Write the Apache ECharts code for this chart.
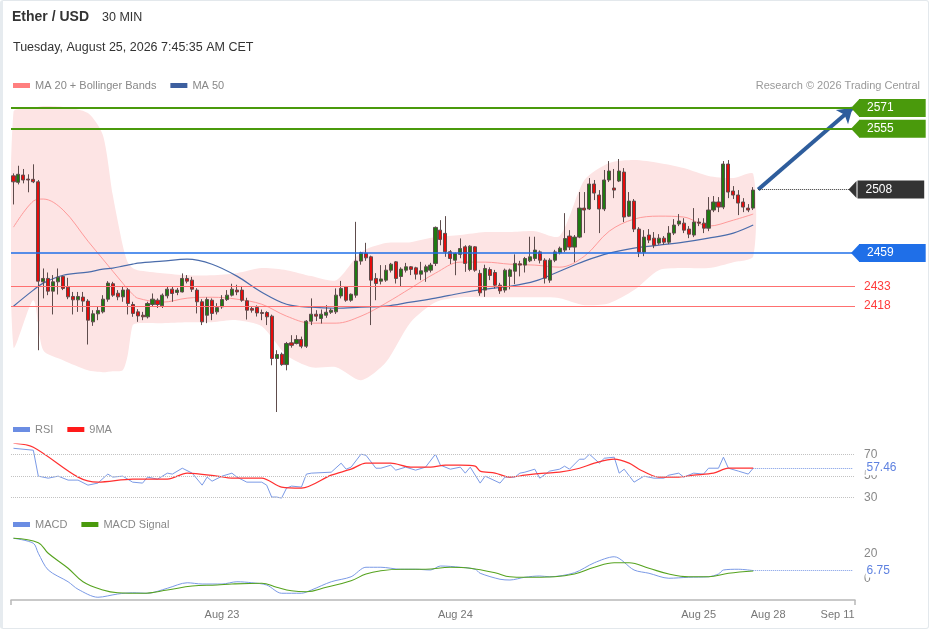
<!DOCTYPE html>
<html><head><meta charset="utf-8">
<script src="https://cdn.jsdelivr.net/npm/echarts@6/dist/echarts.min.js"></script>
<style>
html,body{margin:0;padding:0;background:#fff}
#c{position:absolute;left:0;top:0;width:929px;height:629px}
#frame{position:absolute;left:0;top:0;width:929px;height:629px;box-sizing:border-box;border:1px solid #e3e8ec;border-left:3px solid #e6ebef;border-radius:3px;pointer-events:none}
</style>
</head><body><div id="c"></div><div id="frame"></div>
<script>
const FONT = '"Liberation Sans", Arial, Helvetica, sans-serif';

// ---- x axis slots & tick labels ----
const slotCount = 170;
const tickIndex = [42, 89, 138, 152, 166];
const tickLabels = ['Aug 23', 'Aug 24', 'Aug 25', 'Aug 28', 'Sep 11'];

// ---- 30-min candles (Ether / USD) ----
const open = [2518.6,2513.6,2519.2,2516.1,2515.9,2514.0,2436.8,2439.4,2429.6,2436.8,
2441.0,2432.7,2425.5,2422.9,2425.0,2421.9,2405.9,2412.1,2413.6,2423.4,
2435.3,2428.0,2425.2,2430.6,2419.3,2413.6,2411.0,2409.8,2419.3,2422.6,
2418.3,2426.0,2431.1,2428.6,2429.0,2439.4,2438.1,2430.4,2421.4,2411.0,
2422.6,2413.6,2417.5,2423.1,2426.5,2430.4,2430.4,2422.1,2416.2,2417.0,
2413.1,2413.1,2410.3,2377.6,2380.9,2372.9,2389.7,2389.2,2392.3,2387.1,
2406.4,2411.8,2408.5,2411.0,2413.3,2413.6,2425.9,2432.9,2422.6,2426.5,
2452.8,2458.7,2456.1,2439.4,2437.3,2438.1,2445.8,2452.2,2440.9,2445.8,
2448.4,2447.6,2442.7,2444.5,2445.8,2451.0,2476.7,2474.2,2460.0,2453.5,
2458.0,2463.8,2446.3,2463.8,2443.3,2430.4,2446.3,2444.0,2434.2,2430.4,
2441.0,2445.0,2450.7,2449.7,2453.0,2454.8,2459.9,2453.5,2438.1,2453.5,
2459.2,2461.3,2472.1,2463.6,2471.3,2493.7,2493.0,2512.3,2503.8,2493.0,
2515.4,2509.2,2514.6,2521.5,2487.5,2499.1,2477.5,2459.7,2472.9,2470.5,
2466.7,2470.5,2467.4,2474.4,2481.4,2482.1,2477.5,2472.9,2482.9,2482.1,
2478.2,2492.2,2498.4,2494.5,2527.7,2506.9,2503.8,2498.4,2493.7,2493.7];
const close = [2514.0,2519.8,2515.4,2515.4,2514.0,2437.3,2439.4,2429.6,2436.8,2440.4,
2431.7,2425.2,2422.9,2425.5,2421.9,2407.2,2412.1,2414.7,2423.4,2435.8,
2426.5,2425.2,2430.4,2420.1,2412.4,2410.5,2409.8,2420.1,2423.4,2419.3,
2426.5,2431.1,2427.8,2430.4,2439.4,2437.3,2431.1,2421.4,2405.9,2423.1,
2412.4,2416.9,2423.1,2426.5,2431.1,2429.0,2422.6,2414.9,2414.9,2412.8,
2412.4,2409.8,2377.6,2380.7,2372.9,2389.2,2387.8,2392.3,2387.1,2406.4,
2411.8,2410.3,2411.8,2413.3,2414.9,2426.5,2431.7,2422.6,2427.2,2452.8,
2459.2,2455.3,2438.1,2435.5,2439.0,2445.8,2450.4,2439.4,2446.6,2448.4,
2446.4,2442.7,2445.3,2448.4,2449.7,2478.8,2469.5,2460.0,2454.8,2458.7,
2462.5,2451.0,2464.3,2445.8,2428.3,2447.1,2441.7,2434.2,2429.8,2445.8,
2446.0,2451.0,2449.7,2454.8,2456.1,2461.3,2453.5,2439.6,2453.5,2459.9,
2462.7,2470.2,2463.6,2471.3,2493.7,2492.2,2512.3,2505.3,2493.0,2515.4,
2522.3,2507.6,2522.3,2486.8,2499.1,2477.5,2459.7,2471.3,2469.0,2465.1,
2470.5,2467.4,2474.4,2480.6,2483.7,2476.7,2473.6,2482.9,2482.1,2478.2,
2492.2,2498.4,2494.5,2527.7,2506.1,2503.8,2497.6,2494.5,2492.2,2507.6];
const low = [2496.5,2512.0,2512.8,2505.9,2513.0,2384.0,2424.0,2426.5,2411.6,2427.0,
2430.4,2423.4,2411.6,2413.6,2413.6,2388.4,2402.8,2407.2,2412.4,2421.4,
2425.2,2422.6,2421.4,2411.6,2409.8,2405.9,2407.2,2408.5,2417.5,2416.6,
2416.6,2424.0,2421.4,2426.5,2428.6,2435.6,2429.0,2412.4,2403.4,2404.9,
2407.2,2411.6,2416.0,2422.0,2425.5,2426.5,2421.4,2407.7,2413.0,2410.0,
2407.2,2403.4,2372.4,2336.3,2372.0,2368.5,2386.0,2388.5,2385.5,2385.8,
2403.4,2406.5,2404.6,2409.0,2412.0,2412.0,2424.0,2421.4,2421.4,2424.5,
2450.0,2453.0,2403.4,2422.6,2434.8,2436.8,2444.0,2435.5,2433.0,2444.0,
2442.0,2438.6,2438.1,2436.8,2444.0,2449.0,2465.0,2456.1,2450.5,2441.9,
2455.0,2444.5,2445.0,2444.5,2426.0,2425.2,2438.1,2431.7,2427.5,2428.5,
2431.0,2435.0,2441.0,2444.0,2452.0,2453.0,2451.0,2435.5,2436.0,2452.0,
2458.0,2459.7,2461.3,2452.0,2470.5,2474.4,2492.2,2499.9,2474.4,2491.4,
2513.8,2501.4,2513.8,2482.9,2486.8,2475.2,2455.9,2456.6,2466.7,2462.8,
2465.4,2465.4,2465.9,2472.9,2479.8,2474.4,2470.5,2471.3,2479.8,2474.4,
2475.9,2490.6,2490.6,2492.9,2501.4,2500.7,2488.3,2490.6,2490.6,2492.2];
const high = [2520.5,2526.4,2523.9,2519.8,2527.5,2515.4,2447.1,2444.0,2442.0,2447.1,
2441.5,2439.9,2429.0,2429.0,2429.0,2423.4,2414.9,2417.5,2426.5,2437.3,
2436.8,2430.4,2432.9,2432.1,2421.4,2415.7,2413.6,2421.4,2427.8,2424.0,
2427.8,2432.9,2432.9,2432.1,2443.3,2442.0,2440.6,2431.9,2423.4,2424.8,
2424.0,2420.3,2426.5,2430.4,2435.3,2434.5,2433.6,2424.5,2417.8,2418.6,
2415.4,2414.1,2411.5,2384.0,2382.2,2390.4,2395.6,2395.6,2394.5,2407.2,
2424.0,2414.9,2415.4,2418.8,2416.2,2431.7,2437.5,2433.6,2427.8,2483.1,
2460.0,2466.9,2457.0,2443.5,2449.7,2449.7,2451.4,2452.8,2448.0,2451.4,
2449.0,2448.4,2452.2,2450.0,2451.4,2479.5,2484.4,2487.5,2461.3,2459.5,
2470.3,2465.0,2465.0,2464.3,2446.0,2450.0,2448.0,2446.0,2436.0,2447.0,
2447.0,2458.0,2453.0,2456.0,2471.6,2471.6,2461.0,2455.0,2455.0,2461.5,
2464.0,2489.8,2476.7,2472.9,2506.1,2506.1,2516.9,2515.4,2507.6,2523.1,
2530.0,2523.9,2531.6,2524.6,2506.1,2500.7,2479.0,2476.7,2477.5,2475.2,
2473.6,2472.1,2479.8,2485.2,2489.1,2485.9,2479.8,2493.7,2485.9,2485.9,
2502.2,2503.0,2502.2,2530.0,2530.8,2510.7,2507.6,2501.4,2496.8,2509.9];

// ---- moving averages / Bollinger bands read at these candle indices ----
const bandIdx = [0,4,6,10,15,18,20,22,23,24,25,30,35,40,45,50,55,60,65,70,75,80,85,90,95,100,105,110,115,120,125,130,135,140,145,149];
const ma20 = [2479.0,2499.1,2500.7,2492.2,2468.2,2454.3,2445.0,2435.8,2431.1,2427.3,2424.2,2421.1,2424.2,2424.9,2423.4,2419.5,2410.3,2404.9,2404.9,2410.3,2420.3,2431.9,2443.5,2452.0,2452.0,2450.4,2449.7,2448.1,2456.6,2475.9,2485.2,2487.5,2486.8,2479.8,2484.4,2489.1];
const bbUpper = [2567.9,2571.0,2572.5,2571.8,2567.1,2550.1,2503.8,2465.1,2452.0,2447.4,2445.8,2443.5,2441.9,2441.9,2443.5,2447.4,2445.8,2441.2,2438.1,2459.7,2466.7,2467.4,2471.3,2472.9,2475.2,2475.2,2475.9,2472.1,2515.4,2528.5,2530.8,2528.5,2524.6,2518.5,2516.9,2520.0];
const bbLower = [2386.3,2422.6,2384.0,2376.3,2368.5,2367.0,2367.8,2368.5,2380.1,2403.3,2404.9,2404.9,2405.6,2405.6,2407.2,2402.5,2380.1,2370.8,2370.8,2360.8,2374.7,2405.6,2421.1,2424.9,2424.9,2424.9,2424.9,2424.2,2418.8,2420.3,2430.4,2445.8,2447.4,2447.4,2452.0,2456.6];
const ma50 = [2418.0,2430.4,2435.8,2441.9,2444.3,2446.6,2447.4,2448.9,2449.7,2450.4,2451.2,2452.8,2454.3,2450.4,2441.2,2428.8,2419.5,2417.2,2416.4,2417.2,2418.0,2421.1,2424.2,2428.0,2431.1,2433.4,2437.3,2445.0,2452.8,2458.9,2462.8,2465.1,2467.4,2470.5,2474.4,2480.6];

// ---- RSI panel: [candle index, value] ----
const rsi = [[0,76.0],[4,74.2],[5,50.0],[7,48.1],[9,50.0],[11,46.3],[13,46.3],[15,41.6],[17,43.5],[19,51.9],
[20,49.1],[22,50.0],[24,44.4],[26,43.5],[27,49.1],[29,47.2],[31,52.8],[32,51.9],[34,57.4],[36,52.8],
[38,41.6],[39,49.1],[40,45.3],[42,50.0],[44,52.8],[45,49.1],[47,44.4],[50,44.4],[51,41.6],[52,30.5],
[53,30.5],[54,29.5],[55,38.8],[56,40.7],[58,39.8],[59,51.9],[60,52.8],[64,53.7],[66,62.1],[67,56.5],
[68,58.4],[70,70.5],[71,69.5],[73,57.4],[74,57.4],[76,60.2],[77,55.6],[79,58.4],[81,55.6],[83,58.4],
[85,70.5],[86,60.2],[88,56.5],[90,58.4],[91,52.8],[92,58.4],[94,43.5],[95,50.0],[98,43.5],[99,49.1],
[101,49.1],[102,52.8],[103,53.7],[105,56.5],[106,48.1],[108,54.7],[110,56.5],[111,59.3],[112,56.5],[114,65.8],
[115,65.8],[116,70.5],[118,62.1],[119,66.7],[121,67.7],[122,52.8],[123,56.5],[125,44.4],[127,50.0],[129,48.1],
[131,48.1],[132,50.9],[134,52.8],[135,49.1],[137,52.8],[139,51.9],[140,57.4],[142,57.4],[143,67.7],[144,57.4],
[146,54.7],[148,51.9],[149,57.46]];
const rsiMa9 = [[0,80.7],[4,77.0],[13,49.1],[17,44.4],[24,47.2],[31,47.2],[35,52.8],[41,50.0],[44,48.1],[50,48.1],
[54,39.8],[58,38.8],[64,50.9],[68,56.5],[71,62.1],[76,62.1],[80,58.4],[84,58.4],[87,60.2],[90,60.2],
[93,59.3],[94,54.7],[97,52.8],[100,49.1],[103,50.9],[107,52.8],[110,53.7],[114,57.4],[117,62.1],[121,65.8],
[124,62.1],[126,56.5],[130,49.1],[134,49.1],[137,50.9],[141,52.8],[144,57.4],[149,57.4]];
const rsiLevels = [70, 50, 30];
const rsiLast = 57.46;

// ---- MACD panel: [candle index, value] ----
const macd = [[0,32.6],[4,28.6],[5,20.6],[7,7.2],[11,-2.2],[13,-8.2],[17,-14.6],[21,-12.0],[24,-11.0],[27,-11.4],
[31,-7.4],[35,-3.0],[38,-4.0],[42,-4.0],[45,-2.2],[48,-3.0],[51,-4.8],[54,-11.4],[58,-11.4],[60,-8.8],
[64,-2.2],[68,1.8],[71,9.4],[74,9.4],[78,7.8],[81,7.8],[84,7.2],[86,10.4],[90,9.4],[93,7.8],
[94,4.6],[98,-0.2],[100,-0.8],[103,1.4],[106,2.4],[108,1.8],[113,5.0],[117,13.0],[121,17.8],[125,7.2],
[128,4.6],[132,0.6],[136,1.4],[140,1.8],[142,4.0],[143,7.2],[146,7.8],[149,6.75]];
const macdSignal = [[0,32.6],[5,29.0],[7,20.6],[11,8.6],[14,-2.2],[18,-8.8],[21,-11.0],[26,-11.4],[31,-8.8],[36,-5.6],
[41,-4.8],[44,-4.0],[50,-3.4],[53,-6.6],[56,-9.4],[59,-10.2],[63,-6.6],[68,-1.4],[71,4.0],[74,6.6],
[78,7.8],[83,7.8],[88,9.4],[92,8.6],[97,5.0],[100,1.8],[103,1.4],[109,1.8],[113,4.0],[117,9.4],
[121,13.0],[124,13.0],[128,8.6],[132,4.0],[136,1.8],[140,1.8],[144,4.6],[149,6.4]];
const macdTicks = [20, 0];
const macdLast = 6.75;

// ---- price levels ----
const resistanceLevels = [2571, 2555];
const pivotLevel = 2459;
const supportLevels = [2433, 2418];
const lastPrice = 2508;
const arrowTarget = 2571;

// ---------------------------------------------------------------
const GREEN = '#4a9a0c', BLUE = '#1f6fe8', DARK = '#333333', RED = '#ff3b3b';
const RSI_BLUE = '#7b9ae6';
const cats = Array.from({length: slotCount}, (_, i) => String(i));
const candles = open.map((o, i) => [o, close[i], low[i], high[i]]);
const pairs = (idx, vals) => idx.map((x, i) => [x, vals[i]]);
const lastIdx = open.length - 1;
const endIdx = slotCount - 1;
const NOTCH = 'path://M0,0L10,0L5,10Z';

const boxLabel = (bg, txt, dist) => ({
  show: true, position: 'end', distance: dist, formatter: txt,
  color: '#fff', backgroundColor: bg, padding: [3, 32, 2, 8],
  fontSize: 12, fontFamily: FONT, lineHeight: 13
});

const xCat = (gi, showLabels) => ({
  type: 'category', gridIndex: gi, data: cats, boundaryGap: true, position: 'bottom',
  axisLine: {show: false}, axisTick: {show: false}, splitLine: {show: false},
  axisLabel: showLabels ? {
    show: true, color: '#777', fontSize: 11, fontFamily: FONT, margin: 9,
    interval: (i) => tickIndex.indexOf(i) >= 0,
    formatter: (v, i) => { const k = tickIndex.indexOf(Number(v)); return k >= 0 ? tickLabels[k] : ''; }
  } : {show: false}
});

const chart = echarts.init(document.getElementById('c'), null, {renderer: 'canvas'});
chart.setOption({
  animation: false,
  backgroundColor: '#fff',
  textStyle: {fontFamily: FONT},
  title: [
    {text: 'Ether / USD', left: 12, top: 10, padding: 0, textStyle: {fontSize: 14, fontWeight: 'bold', color: '#333', fontFamily: FONT}},
    {text: '30 MIN', left: 102, top: 11, padding: 0, textStyle: {fontSize: 12.5, fontWeight: 'normal', color: '#333', fontFamily: FONT}},
    {text: 'Tuesday, August 25, 2026 7:45:35 AM CET', left: 13, top: 41, padding: 0, textStyle: {fontSize: 12.5, fontWeight: 'normal', color: '#333', fontFamily: FONT}},
    {text: 'Research © 2026 Trading Central', right: 9, top: 80, padding: 0, textStyle: {fontSize: 11, fontWeight: 'normal', color: '#999', fontFamily: FONT}}
  ],
  legend: [
    {left: 8, top: 75, icon: 'rect', itemWidth: 17, itemHeight: 5, itemGap: 14,
     textStyle: {color: '#888', fontSize: 11, fontFamily: FONT},
     data: [{name: 'MA 20 + Bollinger Bands', itemStyle: {color: '#ff7f7f'}}, {name: 'MA 50', itemStyle: {color: '#3d5f9f'}}]},
    {left: 8, top: 419, icon: 'rect', itemWidth: 17, itemHeight: 5, itemGap: 14,
     textStyle: {color: '#888', fontSize: 11, fontFamily: FONT},
     data: [{name: 'RSI', itemStyle: {color: '#6b8de3'}}, {name: '9MA', itemStyle: {color: '#ff1a1a'}}]},
    {left: 8, top: 514, icon: 'rect', itemWidth: 17, itemHeight: 5, itemGap: 14,
     textStyle: {color: '#888', fontSize: 11, fontFamily: FONT},
     data: [{name: 'MACD', itemStyle: {color: '#6b8de3'}}, {name: 'MACD Signal', itemStyle: {color: '#4a9a0c'}}]}
  ],
  grid: [
    {left: 11, right: 74, top: 95, height: 320},
    {left: 11, right: 74, top: 444, height: 60},
    {left: 11, right: 74, top: 535, height: 65}
  ],
  xAxis: [
    xCat(0, false), xCat(1, false), xCat(2, true),
    {type: 'value', gridIndex: 2, position: 'bottom', min: 0, max: 170, interval: 170,
     axisLine: {show: true, onZero: false, lineStyle: {color: '#b8b8b8', width: 1.5}},
     axisTick: {show: true, length: 5, lineStyle: {color: '#b8b8b8', width: 1.5}},
     axisLabel: {show: false}, splitLine: {show: false}}
  ],
  yAxis: [
    {type: 'value', gridIndex: 0, min: 2334, max: 2581, show: false},
    {type: 'value', gridIndex: 1, min: 24, max: 80, show: false},
    {type: 'value', gridIndex: 2, min: -16.8, max: 35.2, show: false}
  ],
  series: [
    {
      type: 'custom', name: 'band', xAxisIndex: 0, yAxisIndex: 0, z: 1, silent: true, clip: true,
      data: [[bandIdx[0], bbUpper[0]]],
      renderItem: function (params, api) {
        const pts = bandIdx.map((x, i) => api.coord([x, bbUpper[i]]));
        for (let i = bandIdx.length - 1; i >= 0; i--) pts.push(api.coord([bandIdx[i], bbLower[i]]));
        return {type: 'polygon', shape: {points: pts, smooth: 0.25}, style: {fill: '#fde4e4'}};
      }
    },
    {
      type: 'line', name: 'MA 20 + Bollinger Bands', xAxisIndex: 0, yAxisIndex: 0, z: 2,
      data: pairs(bandIdx, ma20), smooth: 0.35, symbol: 'none',
      itemStyle: {color: '#ff7f7f'}, lineStyle: {color: '#ff9a9a', width: 1},
      markLine: {
        silent: true, symbol: ['none', 'none'],
        data: supportLevels.map(v => ({
          yAxis: v, lineStyle: {color: '#ff7070', width: 1, type: 'solid'},
          label: {show: true, position: 'end', distance: 9, formatter: String(v), color: RED, fontSize: 12, fontFamily: FONT}
        }))
      }
    },
    {
      type: 'line', name: 'MA 50', xAxisIndex: 0, yAxisIndex: 0, z: 2,
      data: pairs(bandIdx, ma50), smooth: 0.35, symbol: 'none',
      itemStyle: {color: '#3d5f9f'}, lineStyle: {color: '#4a6cab', width: 1.2},
      markLine: {
        silent: true, symbol: ['none', 'arrow'], symbolSize: 14,
        data: [[
          {coord: [lastIdx + 1, lastPrice]},
          {coord: [endIdx, arrowTarget]}
        ]],
        lineStyle: {color: '#2e5d9c', width: 4, type: 'solid'},
        label: {show: false}
      }
    },
    {
      type: 'candlestick', name: 'Ether / USD', xAxisIndex: 0, yAxisIndex: 0, z: 3,
      data: candles, barWidth: 3.6,
      itemStyle: {color: '#1f7a12', color0: '#e60b0b', borderColor: '#5e4c4c', borderColor0: '#5e4c4c', borderWidth: 1},
      markLine: {
        silent: true, symbol: ['none', NOTCH], symbolSize: [17, 8],
        data: [
          ...resistanceLevels.map(v => ({yAxis: v, lineStyle: {color: GREEN, width: 2, type: 'solid'}, label: boxLabel(GREEN, String(v), 4)})),
          {yAxis: pivotLevel, lineStyle: {color: BLUE, width: 1.5, type: 'solid'}, label: boxLabel(BLUE, String(pivotLevel), 4)},
          [
            {coord: [lastIdx + 1, lastPrice], lineStyle: {color: DARK, width: 1, type: 'dotted'}, label: boxLabel(DARK, String(lastPrice), 5)},
            {coord: [endIdx, lastPrice]}
          ]
        ]
      }
    },
    {
      type: 'line', name: 'RSI', xAxisIndex: 1, yAxisIndex: 1, z: 3,
      data: rsi, symbol: 'none', itemStyle: {color: '#6b8de3'}, lineStyle: {color: RSI_BLUE, width: 1},
      markLine: {
        silent: true, symbol: ['none', 'none'],
        data: [
          ...rsiLevels.map(v => ({yAxis: v, lineStyle: {color: '#c2c2c2', width: 1, type: 'dotted'},
            label: {show: true, position: 'end', distance: 9, formatter: String(v), color: '#888', fontSize: 12, fontFamily: FONT}})),
          [
            {coord: [lastIdx, rsiLast], lineStyle: {color: RSI_BLUE, width: 1, type: 'dotted'},
             label: {show: true, position: 'end', distance: 13, formatter: String(rsiLast), color: '#5f82e0', fontSize: 12, fontFamily: FONT, backgroundColor: '#fff', padding: [1, 2, 1, 1]}},
            {coord: [endIdx, rsiLast]}
          ]
        ]
      }
    },
    {
      type: 'line', name: '9MA', xAxisIndex: 1, yAxisIndex: 1, z: 4,
      data: rsiMa9, symbol: 'none', smooth: 0.3, itemStyle: {color: '#ff1a1a'}, lineStyle: {color: '#ff3030', width: 1.2}
    },
    {
      type: 'line', name: 'MACD', xAxisIndex: 2, yAxisIndex: 2, z: 3,
      data: macd, symbol: 'none', smooth: 0.3, itemStyle: {color: '#6b8de3'}, lineStyle: {color: RSI_BLUE, width: 1},
      markLine: {
        silent: true, symbol: ['none', 'none'],
        data: [
          ...macdTicks.map(v => ({yAxis: v, lineStyle: {color: 'rgba(255,255,255,0)', width: 1, type: 'solid'},
            label: {show: true, position: 'end', distance: 9, formatter: String(v), color: '#888', fontSize: 12, fontFamily: FONT}})),
          [
            {coord: [lastIdx, macdLast], lineStyle: {color: RSI_BLUE, width: 1, type: 'dotted'},
             label: {show: true, position: 'end', distance: 13, formatter: String(macdLast), color: '#5f82e0', fontSize: 12, fontFamily: FONT, backgroundColor: '#fff', padding: [1, 2, 1, 1]}},
            {coord: [endIdx, macdLast]}
          ]
        ]
      }
    },
    {
      type: 'line', name: 'MACD Signal', xAxisIndex: 2, yAxisIndex: 2, z: 4,
      data: macdSignal, symbol: 'none', smooth: 0.4, itemStyle: {color: '#4a9a0c'}, lineStyle: {color: '#56a31f', width: 1.1}
    }
  ]
});
</script>
</body></html>
